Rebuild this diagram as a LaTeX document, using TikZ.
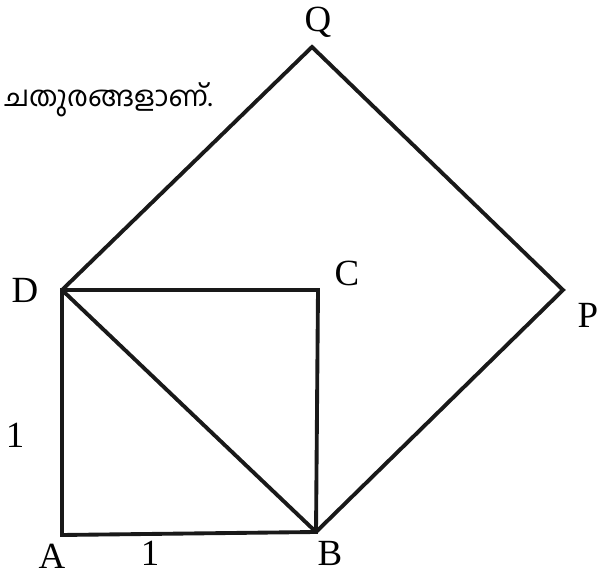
\documentclass[tikz,border=0pt]{standalone}
\usepackage{fontspec}
\setmainfont{Liberation Serif}
\newfontfamily\malfont[Script=Malayalam]{Hind Kochi}
\usetikzlibrary{positioning}
\tikzset{
  edge/.style={line width=2.2pt, line join=miter, draw=black!90},
  vlabel/.style={font=\fontsize{21}{24}\selectfont, inner sep=0pt},
  caption/.style={font=\malfont\fontsize{16}{19}\selectfont, inner sep=0pt, anchor=west},
}
\begin{document}
\begin{tikzpicture}
  \useasboundingbox (0,0) rectangle (12.16,11.5);
  % corners
  \coordinate (A) at (1.24,0.80);
  \coordinate (B) at (6.32,0.86);
  \coordinate (C) at (6.36,5.70);
  \coordinate (D) at (1.24,5.70);
  \coordinate (Q) at (6.24,10.56);
  \coordinate (P) at (11.26,5.70);

  \draw[edge] (A) -- (B) -- (C) -- (D) -- cycle;
  \draw[edge] (D) -- (B);
  \draw[edge] (D) -- (Q) -- (P) -- (B);

  % labels
  \node[vlabel] (lQ) at (6.36,11.06) {Q};
  \node[vlabel] (lD) at (0.50,5.70) {D};
  \node[vlabel] (lC) at (6.94,6.04) {C};
  \node[vlabel] (lP) at (11.76,5.20) {P};
  \node[vlabel] (lA) at (1.04,0.38) {A};
  \node[vlabel] (lB) at (6.60,0.44) {B};
  \node[vlabel] (lAB) at (3.00,0.44) {1};
  \node[vlabel] (lAD) at (0.30,2.80) {1};
  \node[caption] (txt) at (0.08,9.50) {ചതുരങ്ങളാണ്.};
\end{tikzpicture}
\end{document}
